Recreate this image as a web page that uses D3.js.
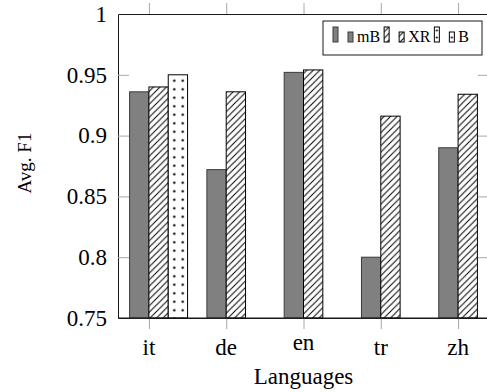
<!DOCTYPE html>
<html>
<head>
<meta charset="utf-8">
<script src="https://cdn.jsdelivr.net/npm/d3@7"></script>
<style>
  body { margin: 0; background: #fff; }
  svg { display: block; font-family: "Liberation Serif", "Times New Roman", serif; }
</style>
</head>
<body>
<div id="container"></div>
<script>
/* DATA */
const languages = ["it", "de", "en", "tr", "zh"];
const mB = [0.936, 0.872, 0.952, 0.800, 0.890];
const XR = [0.940, 0.936, 0.954, 0.916, 0.934];
const B  = [0.950, null, null, null, null];
const seriesNames = ["mB", "XR", "B"];
const yTicks = [0.75, 0.8, 0.85, 0.9, 0.95, 1];
const yTickLabels = ["0.75", "0.8", "0.85", "0.9", "0.95", "1"];

/* CONSTANTS */
const width = 487,
      height = 392,
      plotLeft = 118, plotRight = 489, plotTop = 14, plotBottom = 318,
      tickLen = 11;

const svg = d3.select("#container")
  .append("svg")
  .attr("width", width)
  .attr("height", height);

// patterns
const defs = svg.append("defs");
const hatch = defs.append("pattern")
  .attr("id", "hatch")
  .attr("patternUnits", "userSpaceOnUse")
  .attr("width", 6.5).attr("height", 6.5);
hatch.append("rect").attr("width", 6.5).attr("height", 6.5).attr("fill", "#fff");
hatch.append("path")
  .attr("d", "M0,6.5 L6.5,0 M-1.625,1.625 L1.625,-1.625 M4.875,8.125 L8.125,4.875")
  .attr("stroke", "#000").attr("stroke-width", 1);

const dots = defs.append("pattern")
  .attr("id", "dots")
  .attr("patternUnits", "userSpaceOnUse")
  .attr("width", 8.5).attr("height", 8.5);
dots.append("rect").attr("width", 8.5).attr("height", 8.5).attr("fill", "#fff");
dots.append("circle").attr("cx", 4.25).attr("cy", 4.25).attr("r", 1.2).attr("fill", "#000");

const fills = {
  mB: { fill: "#808080", stroke: "#3a3a3a" },
  XR: { fill: "url(#hatch)", stroke: "#000" },
  B:  { fill: "url(#dots)", stroke: "#000" }
};

/* SCALES */
const xScale = d3.scalePoint()
  .domain(languages)
  .range([plotLeft, plotRight])
  .padding(0.4);

const yScale = d3.scaleLinear()
  .domain([0.75, 1])
  .range([plotBottom, plotTop]);

const barW = xScale.step() * 0.25;

/* AXES */
function styleAxis(g) {
  g.select(".domain").attr("stroke", "#1a1a1a").attr("stroke-width", 1);
  g.selectAll(".tick line").attr("stroke", "#a8a8a8").attr("stroke-width", 1);
}

svg.append("g")
  .attr("transform", `translate(${plotLeft},0)`)
  .call(d3.axisLeft(yScale).tickValues(yTicks)
    .tickFormat((d, i) => yTickLabels[i])
    .tickSizeInner(-tickLen).tickSizeOuter(0).tickPadding(11))
  .call(styleAxis)
  .call(g => g.selectAll("text")
    .attr("fill", "#000")
    .style("font-size", "23px")
    .style("font-family", "'Liberation Serif', serif"));

svg.append("g")
  .attr("transform", `translate(${plotRight},0)`)
  .call(d3.axisRight(yScale).tickValues(yTicks).tickFormat("")
    .tickSizeInner(-tickLen).tickSizeOuter(0))
  .call(styleAxis);

svg.append("g")
  .attr("transform", `translate(0,${plotBottom})`)
  .call(d3.axisBottom(xScale).tickFormat("")
    .tickSizeInner(tickLen).tickSizeOuter(0))
  .call(styleAxis);

svg.append("g")
  .attr("transform", `translate(0,${plotTop})`)
  .call(d3.axisTop(xScale).tickFormat("")
    .tickSizeInner(tickLen).tickSizeOuter(0))
  .call(styleAxis);

// category labels, anchored at the top of their box like pgfplots
const labelTop = 339, labelSize = 23;
svg.append("g").selectAll("text")
  .data(languages)
  .enter().append("text")
  .attr("x", d => xScale(d))
  .attr("y", d => labelTop + (/[bdfhklit]/.test(d) ? 0.69 : 0.47) * labelSize)
  .attr("text-anchor", "middle")
  .style("font-size", labelSize + "px")
  .text(d => d);

svg.append("text")
  .attr("x", (plotLeft + plotRight) / 2)
  .attr("y", 384)
  .attr("text-anchor", "middle")
  .style("font-size", "23px")
  .text("Languages");

svg.append("text")
  .attr("transform", `translate(31,${(plotTop + plotBottom) / 2 - 3}) rotate(-90)`)
  .attr("text-anchor", "middle")
  .style("font-size", "19px")
  .text("Avg. F1");

/* BARS */
const seriesValues = [mB, XR, B];
seriesValues.forEach((vals, si) => {
  const name = seriesNames[si];
  const rows = languages.map((l, i) => ({ lang: l, value: vals[i] }))
    .filter(d => d.value !== null);
  svg.append("g").selectAll("rect")
    .data(rows)
    .enter().append("rect")
    .attr("x", d => xScale(d.lang) + (si - 1) * barW)
    .attr("y", d => yScale(d.value))
    .attr("width", barW)
    .attr("height", d => yScale(0.75) - yScale(d.value))
    .attr("fill", fills[name].fill)
    .attr("stroke", fills[name].stroke)
    .attr("stroke-width", 1);
});

// redraw the bottom axis line over the bars
svg.append("line")
  .attr("x1", plotLeft).attr("x2", plotRight)
  .attr("y1", plotBottom).attr("y2", plotBottom)
  .attr("stroke", "#1a1a1a");

/* LEGEND */
const legend = svg.append("g");
legend.append("rect")
  .attr("x", 323).attr("y", 21)
  .attr("width", 159).attr("height", 34)
  .attr("fill", "#fff").attr("stroke", "#1a1a1a");

let lx = 333;
const legBase = 42;
seriesNames.forEach(name => {
  let fill = fills[name].fill;
  if (name === "B") {
    // small dot pattern lined up with the narrow legend bars
    const p = defs.append("pattern")
      .attr("id", "dotsLegend")
      .attr("patternUnits", "userSpaceOnUse")
      .attr("x", lx).attr("y", legBase - 15)
      .attr("width", 5).attr("height", 7);
    p.append("rect").attr("width", 5).attr("height", 7).attr("fill", "#fff");
    p.append("circle").attr("cx", 2.5).attr("cy", 3.5).attr("r", 1.1).attr("fill", "#000");
    fill = "url(#dotsLegend)";
  }
  legend.append("rect")
    .attr("x", lx).attr("y", legBase - 15)
    .attr("width", 5).attr("height", 15)
    .attr("fill", fill).attr("stroke", fills[name].stroke);
  legend.append("rect")
    .attr("x", lx + 15).attr("y", legBase - 10)
    .attr("width", 5).attr("height", 10)
    .attr("fill", fill).attr("stroke", fills[name].stroke);
  const t = legend.append("text")
    .attr("x", lx + 24)
    .attr("y", legBase)
    .style("font-size", "16px")
    .text(name);
  lx = lx + 24 + t.node().getComputedTextLength() + 4;
});
</script>
</body>
</html>
